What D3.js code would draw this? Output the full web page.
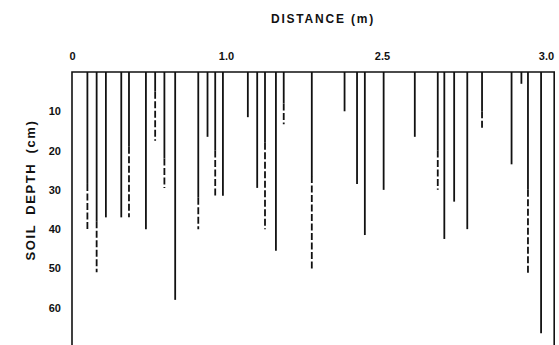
<!DOCTYPE html>
<html>
<head>
<meta charset="utf-8">
<script src="https://cdn.jsdelivr.net/npm/d3@7"></script>
<style>
	body { margin: 0; background: #fff; }
	text { font-family: "Liberation Sans", Arial, sans-serif; fill: #111; }
</style>
</head>
<body>
<svg id="chart" width="559" height="345"></svg>
<script>
// distance of each root from the origin (m)
const rootDist = [0.10, 0.16, 0.22, 0.32, 0.37, 0.48, 0.54, 0.60, 0.67, 0.82, 0.88, 0.93, 0.98,
	1.14, 1.20, 1.25, 1.32, 1.37, 1.55, 1.76, 1.84, 1.89, 2.01,
	2.20, 2.34, 2.38, 2.44, 2.52, 2.61, 2.79, 2.85, 2.89, 2.97];
// depth reached by the continuous trace (cm)
const solidDepth = [28.5, 38, 37, 37, 19, 40, 5, 22, 58, 32, 16.5, 20, 31.5,
	11.5, 29.5, 18, 45.5, 8, 26.5, 10, 28.5, 41.5, 30,
	16.5, 20, 42.5, 33, 40, 10, 23.5, 3, 30, 66.5];
// depth reached by the broken (dashed) part, null when there is none (cm)
const dashDepth = [40, 51, null, null, 37, null, 17.5, 29.5, null, 40, null, 32, null,
	null, null, 40, null, 13.3, 50.5, null, null, null, null,
	null, 30, null, null, null, 14.5, null, null, 51.5, null];

const xTickValues = [0, 1, 2, 3];
const xTickLabels = ["0", "1.0", "2.5", "3.0"];
const yTickValues = [10, 20, 30, 40, 50, 60];
const maxDepth = 70;
const frameEnd = 3.05;

const svg = d3.select("#chart");

const x = d3.scaleLinear().domain([0, 1, 2, 3]).range([72, 226, 382, 546]);
const y = d3.scaleLinear().domain([0, maxDepth]).range([72, 347]);

// tick labels only, the frame is drawn below
let xAxis = svg.append("g")
	.attr("transform", "translate(0," + y(0) + ")")
	.call(d3.axisTop(x)
		.tickValues(xTickValues)
		.tickFormat(function(d, i) { return xTickLabels[i]; })
		.tickSize(0)
		.tickPadding(12));
xAxis.select(".domain").remove();
xAxis.selectAll("text")
	.style("font-size", "11px")
	.style("font-weight", "bold");

let yAxis = svg.append("g")
	.attr("transform", "translate(" + x(0) + ",0)")
	.call(d3.axisLeft(y)
		.tickValues(yTickValues)
		.tickSize(0)
		.tickPadding(11));
yAxis.select(".domain").remove();
yAxis.selectAll("text")
	.style("font-size", "11px")
	.style("font-weight", "bold");

svg.append("path")
	.attr("d", "M" + x(0) + "," + y(maxDepth) + "V" + y(0) + "H" + x(frameEnd) + "V" + y(maxDepth))
	.attr("fill", "none")
	.attr("stroke", "#111")
	.attr("stroke-width", 1.6);

svg.selectAll(".root")
	.data(rootDist)
	.enter()
	.append("line")
	.attr("class", "root")
	.attr("x1", function(d) { return x(d); })
	.attr("x2", function(d) { return x(d); })
	.attr("y1", y(0))
	.attr("y2", function(d, i) { return y(solidDepth[i]); })
	.attr("stroke", "#111")
	.attr("stroke-width", 1.8);

let broken = rootDist.map(function(d, i) { return i; }).filter(function(i) { return dashDepth[i] != null; });
svg.selectAll(".rootDash")
	.data(broken)
	.enter()
	.append("line")
	.attr("class", "rootDash")
	.attr("x1", function(i) { return x(rootDist[i]); })
	.attr("x2", function(i) { return x(rootDist[i]); })
	.attr("y1", function(i) { return y(solidDepth[i]); })
	.attr("y2", function(i) { return y(dashDepth[i]); })
	.attr("stroke", "#111")
	.attr("stroke-width", 1.8)
	.attr("stroke-dasharray", "7,2.5");

svg.append("text")
	.attr("x", 323)
	.attr("y", 23)
	.attr("text-anchor", "middle")
	.style("font-size", "12px")
	.style("font-weight", "bold")
	.style("letter-spacing", "1.8px")
	.text("DISTANCE (m)");

svg.append("text")
	.attr("transform", "translate(35,190) rotate(-90)")
	.attr("text-anchor", "middle")
	.style("font-size", "13px")
	.style("font-weight", "bold")
	.style("letter-spacing", "1.6px")
	.style("word-spacing", "4px")
	.text("SOIL DEPTH (cm)");
</script>
</body>
</html>
